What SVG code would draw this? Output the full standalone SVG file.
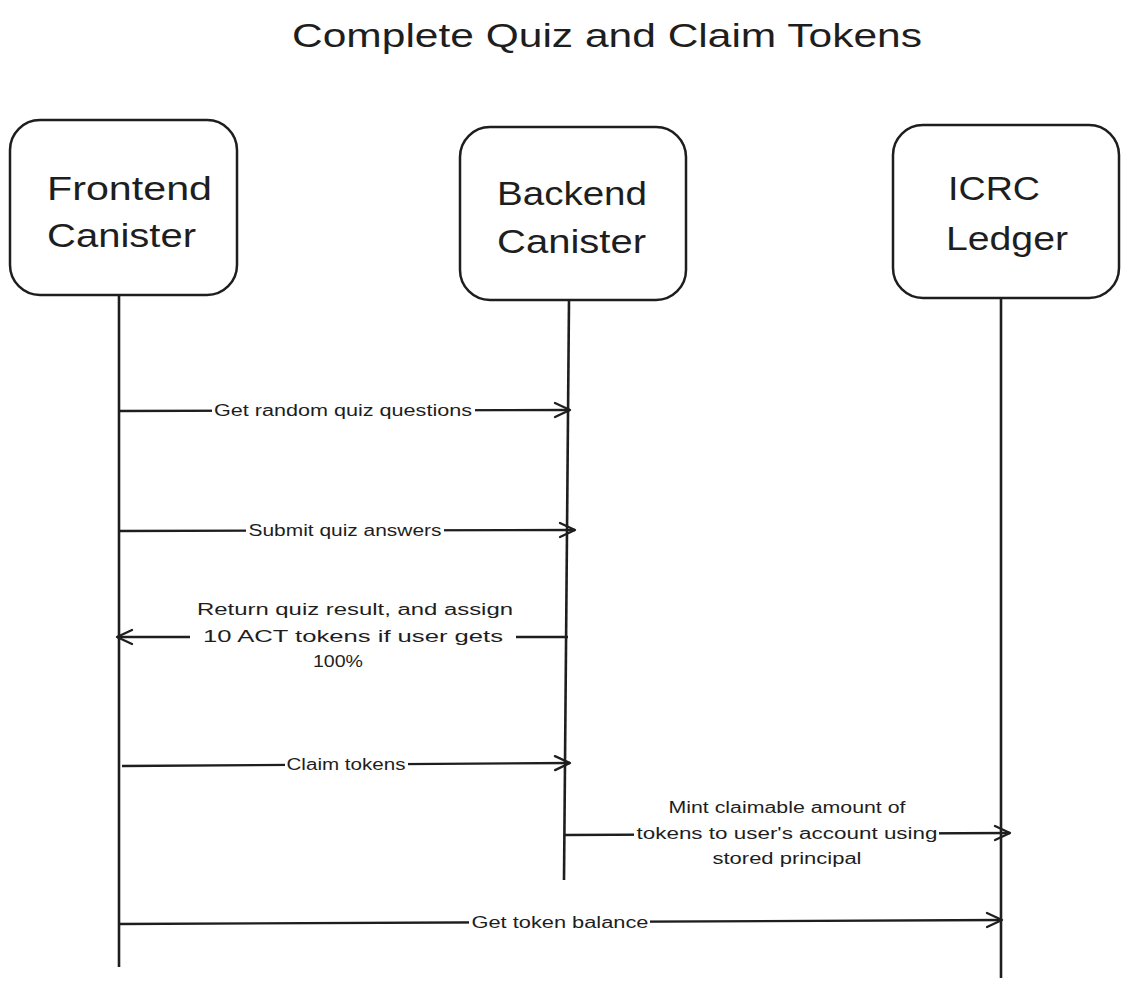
<svg xmlns="http://www.w3.org/2000/svg" width="1129" height="989" viewBox="0 0 1129 989">
<defs>
<style>
.box{fill:#ffffff;stroke:#1e1e1e;stroke-width:2.5}
.life{stroke:#1e1e1e;stroke-width:2.6;fill:none}
.msg{stroke:#1e1e1e;stroke-width:2.3;fill:none}
.nt{font-family:"Liberation Sans","DejaVu Sans",sans-serif;font-size:34px;fill:#1e1e1e}
.title{font-family:"Liberation Sans","DejaVu Sans",sans-serif;font-size:34px;fill:#1e1e1e}
.lbl{font-family:"Liberation Sans","DejaVu Sans",sans-serif;font-size:16px;fill:#1e1e1e;text-anchor:middle}
.bg{fill:#ffffff}
</style>
<marker id="arr" viewBox="0 0 20 20" refX="18" refY="10" markerWidth="20" markerHeight="20" markerUnits="userSpaceOnUse" orient="auto">
<path d="M3,3 L18,10 L3,17" fill="none" stroke="#1e1e1e" stroke-width="2.3" stroke-linecap="round" stroke-linejoin="round"/>
</marker>
</defs>
<rect width="1129" height="989" fill="#ffffff"/>
<text class="title" x="292" y="47" textLength="630" lengthAdjust="spacingAndGlyphs">Complete Quiz and Claim Tokens</text>

<g id="lifelines">
<path class="life" d="M119,295 L119,967"/>
<path class="life" d="M569,300 L564,880"/>
<path class="life" d="M1001,298 L1001,978"/>
</g>

<g id="frontend">
<rect class="box" x="10" y="120" width="227" height="175" rx="30"/>
<text class="nt" x="47" y="200" textLength="165" lengthAdjust="spacingAndGlyphs">Frontend</text>
<text class="nt" x="47" y="247" textLength="149" lengthAdjust="spacingAndGlyphs">Canister</text>
</g>
<g id="backend">
<rect class="box" x="460" y="127" width="226" height="173" rx="30"/>
<text class="nt" x="497" y="205" textLength="150" lengthAdjust="spacingAndGlyphs">Backend</text>
<text class="nt" x="497" y="253" textLength="149" lengthAdjust="spacingAndGlyphs">Canister</text>
</g>
<g id="icrc">
<rect class="box" x="893" y="125" width="226" height="173" rx="30"/>
<text class="nt" x="948" y="200" textLength="92" lengthAdjust="spacingAndGlyphs">ICRC</text>
<text class="nt" x="946" y="250" textLength="122" lengthAdjust="spacingAndGlyphs">Ledger</text>
</g>

<g id="connectors">
<path class="msg" d="M119,411 L570,410" marker-end="url(#arr)"/>
<rect class="bg" x="212" y="400" width="263" height="20"/>
<text class="lbl" x="343" y="416" textLength="258" lengthAdjust="spacingAndGlyphs">Get random quiz questions</text>

<path class="msg" d="M119,531 L575,530" marker-end="url(#arr)"/>
<rect class="bg" x="246" y="520" width="198" height="20"/>
<text class="lbl" x="345" y="536" textLength="193" lengthAdjust="spacingAndGlyphs">Submit quiz answers</text>

<path class="msg" d="M568,637 L117,637" marker-end="url(#arr)"/>
<rect class="bg" x="190" y="598" width="326" height="74"/>
<text class="lbl" x="355" y="615" textLength="316" lengthAdjust="spacingAndGlyphs">Return quiz result, and assign</text>
<text class="lbl" x="353" y="642" textLength="300" lengthAdjust="spacingAndGlyphs">10 ACT tokens if user gets</text>
<text class="lbl" x="338" y="667" textLength="50" lengthAdjust="spacingAndGlyphs">100%</text>

<path class="msg" d="M122,766 L570,763" marker-end="url(#arr)"/>
<rect class="bg" x="285" y="754" width="123" height="20"/>
<text class="lbl" x="346" y="770" textLength="119" lengthAdjust="spacingAndGlyphs">Claim tokens</text>

<path class="msg" d="M564,835 L1010,833" marker-end="url(#arr)"/>
<rect class="bg" x="634" y="796" width="305" height="74"/>
<text class="lbl" x="787" y="813" textLength="237" lengthAdjust="spacingAndGlyphs">Mint claimable amount of</text>
<text class="lbl" x="787" y="839" textLength="301" lengthAdjust="spacingAndGlyphs">tokens to user's account using</text>
<text class="lbl" x="787" y="864" textLength="149" lengthAdjust="spacingAndGlyphs">stored principal</text>

<path class="msg" d="M119,924 L1002,920" marker-end="url(#arr)" stroke-width="2.6"/>
<rect class="bg" x="469" y="912" width="181" height="20"/>
<text class="lbl" x="560" y="928" textLength="177" lengthAdjust="spacingAndGlyphs">Get token balance</text>
</g>
</svg>
